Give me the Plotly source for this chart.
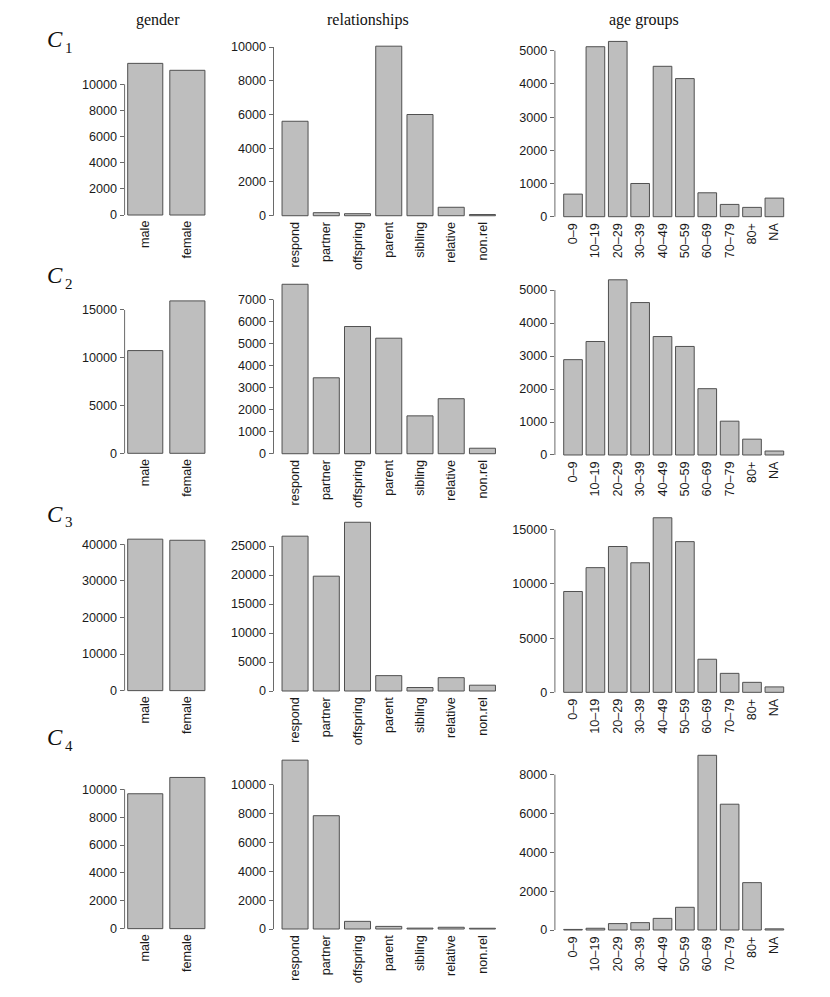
import plotly.graph_objects as go

W, H = 830, 997

genders = ["male", "female"]
relations = ["respond", "partner", "offspring", "parent", "sibling", "relative", "non.rel"]
ages = ["0–9", "10–19", "20–29", "30–39", "40–49", "50–59", "60–69", "70–79", "80+", "NA"]
clusters = ["1", "2", "3", "4"]
columns = ["gender", "relationships", "age groups"]

gender_C1 = [11600, 11070]
gender_C2 = [10750, 15950]
gender_C3 = [41400, 41100]
gender_C4 = [9680, 10850]

rel_C1 = [5600, 180, 120, 10050, 6000, 500, 70]
rel_C2 = [7700, 3450, 5780, 5250, 1720, 2500, 250]
rel_C3 = [26700, 19800, 29100, 2650, 600, 2300, 1000]
rel_C4 = [11700, 7850, 530, 180, 60, 120, 50]

age_C1 = [680, 5120, 5280, 1000, 4530, 4160, 720, 370, 280, 560]
age_C2 = [2890, 3440, 5310, 4620, 3590, 3290, 2010, 1025, 480, 120]
age_C3 = [9300, 11500, 13450, 11950, 16100, 13900, 3050, 1750, 920, 500]
age_C4 = [30, 90, 330, 380, 600, 1170, 9000, 6480, 2440, 60]

# tick steps per panel (row-wise: gender, relationships, age groups)
tick_steps = [
    [2000, 2000, 1000],
    [5000, 1000, 1000],
    [10000, 5000, 5000],
    [2000, 2000, 2000],
]

# layout in pixels
col_x = [(116.6, 200.0), (265.5, 496.0), (546.9, 784.5)]
row_y = [
    [(49.3, 213.1), (31.4, 214.5), (26.4, 215.7)],
    [(286.8, 451.4), (269.5, 452.5), (264.8, 454.0)],
    [(525.1, 688.7), (507.5, 689.75), (502.8, 691.3)],
    [(763.4, 926.7), (745.4, 927.75), (740.3, 929.0)],
]
title_x = [150, 359.7, 635.8]
clabel_y = [40, 276, 514, 737.5]

data = [
    [gender_C1, rel_C1, age_C1],
    [gender_C2, rel_C2, age_C2],
    [gender_C3, rel_C3, age_C3],
    [gender_C4, rel_C4, age_C4],
]
cats = [genders, relations, ages]

FILL = "#BEBEBE"
EDGE = "#505050"
AXC = "#6a6a6a"
TICKFONT = dict(family="Liberation Sans, Arial, sans-serif", size=12.6, color="#1a1a1a")
SERIF = "Liberation Serif, DejaVu Serif, serif"

fig = go.Figure()
layout = {}
k = 0
for r in range(4):
    for c in range(3):
        k += 1
        xs = "" if k == 1 else str(k)
        vals = data[r][c]
        cat = cats[c]
        n = len(cat)
        M = max(vals)
        fig.add_trace(go.Bar(
            x=cat, y=vals, xaxis="x" + xs, yaxis="y" + xs,
            marker=dict(color=FILL, line=dict(color=EDGE, width=1)),
            showlegend=False, hoverinfo="x+y",
        ))
        Wr = 1.2 * n - 0.2
        ext = 0.04 * Wr
        xr = [(-0.5 - ext) / 1.2, n - 1 + (0.5 + ext) / 1.2]
        x0, x1 = col_x[c]
        ytop, ybot = row_y[r][c]
        step = tick_steps[r][c]
        ticks = list(range(0, int(M) + 1, step))
        layout["xaxis" + xs] = dict(
            domain=[x0 / W, x1 / W], anchor="y" + xs, type="category",
            range=xr, showgrid=False, zeroline=False, showline=False,
            ticks="", tickangle=-90, tickfont=TICKFONT, automargin=False,
            ticklabelstandoff=-4, fixedrange=True,
        )
        layout["yaxis" + xs] = dict(
            domain=[1 - ybot / H, 1 - ytop / H], anchor="x" + xs,
            range=[-0.04 * M, 1.04 * M], tickvals=ticks,
            ticktext=[str(t) for t in ticks],
            showgrid=False, zeroline=False, showline=False,
            ticks="outside", ticklen=4, tickwidth=1, tickcolor=AXC,
            tickfont=TICKFONT, automargin=False, fixedrange=True,
        )
        fig.add_shape(type="line", xref="x" + xs + " domain", yref="y" + xs,
                      x0=0, x1=0, y0=0, y1=ticks[-1],
                      line=dict(color=AXC, width=1))

annots = []
for c, t in enumerate(columns):
    annots.append(dict(text=t, x=title_x[c] / W, y=1 - 12 / H, xref="paper", yref="paper",
                       xanchor="center", yanchor="middle", showarrow=False,
                       font=dict(family=SERIF, size=16, color="#111")))
for r, cl in enumerate(clusters):
    annots.append(dict(text="C", x=37 / W, y=1 - (clabel_y[r] - 8) / H,
                       xref="paper", yref="paper", xanchor="left", yanchor="middle",
                       showarrow=False,
                       font=dict(family=SERIF, size=23, color="#111", style="italic")))
    annots.append(dict(text=cl, x=55 / W, y=1 - (clabel_y[r] + 0) / H,
                       xref="paper", yref="paper", xanchor="left", yanchor="middle",
                       showarrow=False,
                       font=dict(family=SERIF, size=15, color="#111")))

fig.update_layout(
    width=W, height=H, margin=dict(l=0, r=0, t=0, b=0),
    paper_bgcolor="white", plot_bgcolor="white",
    bargap=1 / 6, annotations=annots, **layout,
)
fig.write_html("out.html")
